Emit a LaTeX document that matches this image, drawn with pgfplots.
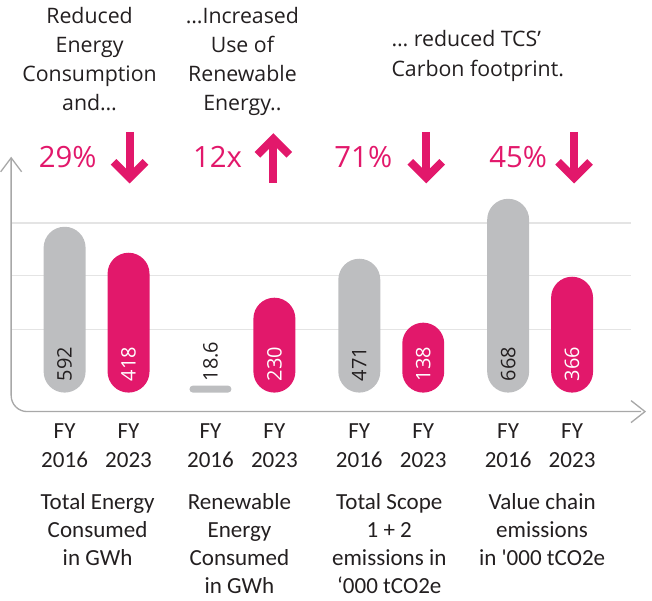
\documentclass[border=0pt]{standalone}
\usepackage{pgfplots}
\pgfplotsset{compat=1.18}
\usepackage{pgfplotstable}
\usepackage{fontspec}
\setmainfont{Open Sans}
\newfontfamily\carlito{Carlito}
\definecolor{tcspink}{HTML}{E2186B}
\definecolor{bargray}{HTML}{BDBEC0}
\definecolor{gridgray}{HTML}{E4E4E4}
\definecolor{axgray}{HTML}{A8A8A8}
\definecolor{txt}{HTML}{231F20}

% x = bar centre, h = drawn height, ly = label start, label = value
\pgfplotstableread{
x h ly label
64 166 11 592
359 134 11 471
508 194 11 668
}\grayA
\pgfplotstableread{
x h ly label
210 7 11 18.6
}\grayB
\pgfplotstableread{
x h ly label
128 140 11 418
274 95 11 230
423 70 11 138
572 116 11 366
}\pinkT

\tikzset{
  yrlab/.style={anchor=base, align=center, inner sep=0pt, text=txt, font=\carlito\fontsize{17.3}{21.75}\selectfont},
  catlab/.style={anchor=base, align=center, inner sep=0pt, text=txt, font=\carlito\fontsize{17.3}{21}\selectfont},
  pct/.style={anchor=base, inner sep=0pt, text=tcspink, font=\fontsize{22}{26}\selectfont},
  arr/.style={tcspink, line width=6pt, miter limit=4}
}

\begin{document}
\begin{tikzpicture}
\begin{axis}[scale only axis, width=489pt, height=450.75pt,
  xmin=0, xmax=652, ymin=-208, ymax=393, hide axis, clip=false]
% grid lines
\draw[gridgray, line width=1.1pt] (axis cs:10,170) -- (axis cs:631,170);
\draw[gridgray, line width=1.1pt] (axis cs:10,117) -- (axis cs:631,117);
\draw[gridgray, line width=1.1pt] (axis cs:10,63) -- (axis cs:631,63);
% axes
\draw[axgray, line width=1pt, rounded corners=12pt] (axis cs:10.5,235) -- (axis cs:10.5,-19) -- (axis cs:641,-19);
\draw[axgray, line width=1pt] (axis cs:0,221) -- (axis cs:10.5,235) -- (axis cs:21,221);
\draw[axgray, line width=1pt] (axis cs:631,-8) -- (axis cs:645,-19) -- (axis cs:631,-30);
% bars
\addplot[ybar, bar width=42, bar shift=0pt, fill=bargray, draw=none, rounded corners=15.75pt] table[x=x,y=h]{\grayA};
\addplot[ybar, bar width=42, bar shift=0pt, fill=bargray, draw=none, rounded corners=2.6pt] table[x=x,y=h]{\grayB};
\addplot[ybar, bar width=42, bar shift=0pt, fill=tcspink, draw=none, rounded corners=15.75pt] table[x=x,y=h]{\pinkT};
% value labels
\addplot[draw=none, mark=none, point meta=explicit symbolic,
  nodes near coords={\rotatebox{90}{\pgfplotspointmeta}},
  nodes near coords style={anchor=south, inner sep=0pt, text=txt, font=\fontsize{15}{18}\selectfont}]
  table[x=x,y=ly,meta=label]{\grayA};
\addplot[draw=none, mark=none, point meta=explicit symbolic,
  nodes near coords={\rotatebox{90}{\pgfplotspointmeta}},
  nodes near coords style={anchor=south, inner sep=0pt, text=txt, font=\fontsize{15}{18}\selectfont}]
  table[x=x,y=ly,meta=label]{\grayB};
\addplot[draw=none, mark=none, point meta=explicit symbolic,
  nodes near coords={\rotatebox{90}{\pgfplotspointmeta}},
  nodes near coords style={anchor=south, inner sep=0pt, text=white, font=\fontsize{15}{18}\selectfont}]
  table[x=x,y=ly,meta=label]{\pinkT};
% headline texts (anchor = baseline of last line)
\node[anchor=base, align=center, inner sep=0pt, text=txt, font=\fontsize{16}{21.75}\selectfont] at (axis cs:89,282) {Reduced\\Energy\\Consumption\\and\ldots};
\node[anchor=base, align=center, inner sep=0pt, text=txt, font=\fontsize{16}{21.75}\selectfont] at (axis cs:242,282) {\ldots Increased\\Use of\\Renewable\\Energy..};
\node[anchor=base west, align=left, inner sep=0pt, text=txt, font=\fontsize{16}{22.5}\selectfont] at (axis cs:391,316) {\ldots\ reduced TCS’\\Carbon footprint.};
% percentages
\node[pct] at (axis cs:67,225) {29\%};
\node[pct] at (axis cs:217,225) {12x};
\node[pct] at (axis cs:363,225) {71\%};
\node[pct] at (axis cs:518,225) {45\%};
% arrows
\draw[arr] (axis cs:129,261) -- (axis cs:129,217);
\draw[arr] (axis cs:113,231) -- (axis cs:129,215) -- (axis cs:145,231);
\draw[arr] (axis cs:426,261) -- (axis cs:426,217);
\draw[arr] (axis cs:410,231) -- (axis cs:426,215) -- (axis cs:442,231);
\draw[arr] (axis cs:574,261) -- (axis cs:574,217);
\draw[arr] (axis cs:558,231) -- (axis cs:574,215) -- (axis cs:590,231);
\draw[arr] (axis cs:273,252) -- (axis cs:273,210);
\draw[arr] (axis cs:257,238) -- (axis cs:273,254) -- (axis cs:289,238);
% year labels
\node[yrlab] at (axis cs:64,-75) {FY\\2016};
\node[yrlab] at (axis cs:128,-75) {FY\\2023};
\node[yrlab] at (axis cs:210,-75) {FY\\2016};
\node[yrlab] at (axis cs:274,-75) {FY\\2023};
\node[yrlab] at (axis cs:359,-75) {FY\\2016};
\node[yrlab] at (axis cs:423,-75) {FY\\2023};
\node[yrlab] at (axis cs:508,-75) {FY\\2016};
\node[yrlab] at (axis cs:572,-75) {FY\\2023};
% category labels
\node[catlab] at (axis cs:97,-173) {Total Energy\\Consumed\\in GWh};
\node[catlab] at (axis cs:239,-201) {Renewable\\Energy\\Consumed\\in GWh};
\node[catlab] at (axis cs:389,-201) {Total Scope\\1 + 2\\emissions in\\‘000 tCO2e};
\node[catlab] at (axis cs:542,-173) {Value chain\\emissions\\in '000 tCO2e};
\end{axis}
\path (current axis.south west) rectangle (current axis.north east);
\end{tikzpicture}
\end{document}
